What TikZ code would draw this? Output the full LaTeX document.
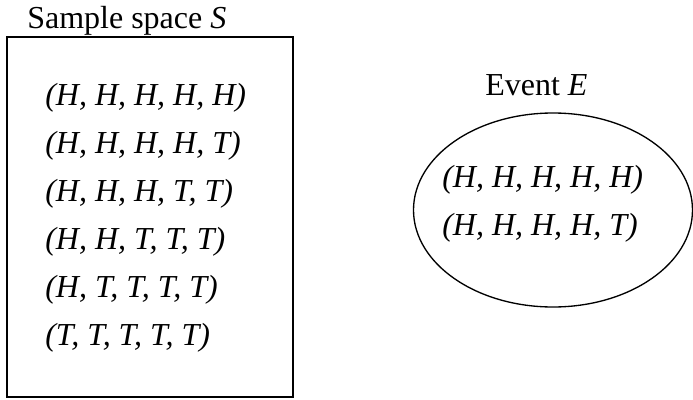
\documentclass[tikz,border=0pt]{standalone}
\usepackage{fontspec}
\setmainfont{Liberation Serif}
\usetikzlibrary{shapes.geometric}
\tikzset{
  lbl/.style={anchor=base west, inner sep=0pt, font=\fontsize{24}{28}\selectfont},
  outcome/.style={anchor=base west, inner sep=0pt, font=\fontsize{24}{28}\selectfont\itshape},
  setbox/.style={draw, line width=1.1pt, inner sep=0pt},
  eventshape/.style={draw, ellipse, line width=1pt, inner sep=0pt}
}
\begin{document}
\begin{tikzpicture}[x=0.75pt, y=-0.75pt]
\useasboundingbox (0,0) rectangle (693,400);
% sample space box
\node[setbox, minimum width=214.5pt, minimum height=270pt] (S) at (150,217) {};
\node[lbl] (Slabel) at (27,28) {Sample space \textit{S}};
\node[outcome] (s1) at (45,105) {(H, H, H, H, H)};
\node[outcome] (s2) at (45,153) {(H, H, H, H, T)};
\node[outcome] (s3) at (45,201) {(H, H, H, T, T)};
\node[outcome] (s4) at (45,249) {(H, H, T, T, T)};
\node[outcome] (s5) at (45,297) {(H, T, T, T, T)};
\node[outcome] (s6) at (45,345) {(T, T, T, T, T)};
% event
\node[eventshape, minimum width=209.25pt, minimum height=145.5pt] (E) at (553,210) {};
\node[lbl] (Elabel) at (485,95) {Event \textit{E}};
\node[outcome] (e1) at (442,187) {(H, H, H, H, H)};
\node[outcome] (e2) at (442,235) {(H, H, H, H, T)};
\end{tikzpicture}
\end{document}
